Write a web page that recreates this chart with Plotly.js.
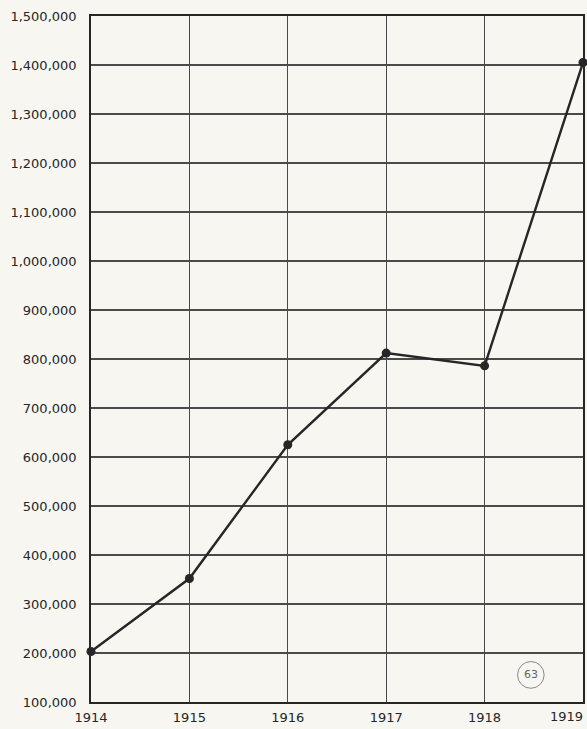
<!DOCTYPE html>
<html>
<head>
<meta charset="utf-8">
<script src="https://cdn.plot.ly/plotly-3.0.1.min.js"></script>
<style>
html,body{margin:0;padding:0;background:#f7f6f1;}
#chart{width:587px;height:729px;}
</style>
</head>
<body>
<div id="chart"></div>
<script>
const years = [1914, 1915, 1916, 1917, 1918, 1919];
const values = [203000, 352000, 625000, 812000, 786000, 1405000];
const yTickVals = [100000, 200000, 300000, 400000, 500000, 600000, 700000, 800000, 900000, 1000000, 1100000, 1200000, 1300000, 1400000, 1500000];
const yTickText = ['100,000', '200,000', '300,000', '400,000', '500,000', '600,000', '700,000', '800,000', '900,000', '1,000,000', '1,100,000', '1,200,000', '1,300,000', '1,400,000', '1,500,000'];
const xTickVals = [1914, 1915, 1916, 1917, 1918];
const xTickText = ['1914', '1915', '1916', '1917', '1918'];
const lastYearLabel = '1919';
const pageMark = '63';

const ink = '#262626';
const gridInk = '#4a4a4a';
const labelFont = {family: 'DejaVu Sans, sans-serif', size: 13, color: '#262626'};

const trace = {
  x: years,
  y: values,
  type: 'scatter',
  mode: 'lines+markers',
  line: {color: ink, width: 2.4},
  marker: {color: ink, size: 9},
  cliponaxis: false,
  hoverinfo: 'skip'
};

const layout = {
  width: 587,
  height: 729,
  margin: {l: 91, r: 4, t: 16, b: 27},
  paper_bgcolor: '#f7f6f1',
  plot_bgcolor: '#f7f6f1',
  showlegend: false,
  xaxis: {
    range: [1914, 1919],
    tickvals: xTickVals,
    ticktext: xTickText,
    showgrid: true,
    gridcolor: gridInk,
    gridwidth: 1.3,
    zeroline: false,
    showline: true,
    linecolor: ink,
    linewidth: 1.8,
    mirror: true,
    ticks: '',
    ticklabelstandoff: 3,
    tickfont: labelFont
  },
  yaxis: {
    range: [100000, 1500000],
    tickvals: yTickVals,
    ticktext: yTickText,
    showgrid: true,
    gridcolor: gridInk,
    gridwidth: 1.3,
    zeroline: false,
    showline: true,
    linecolor: ink,
    linewidth: 1.8,
    mirror: true,
    ticks: '',
    ticklabelstandoff: 10,
    tickfont: labelFont
  },
  shapes: [
    {type: 'circle', xref: 'paper', yref: 'paper', x0: 0.867, x1: 0.921, y0: 0.02, y1: 0.059,
     line: {color: '#8a8a8a', width: 1}}
  ],
  annotations: [
    {text: pageMark, xref: 'paper', yref: 'paper', x: 0.894, y: 0.0395, xanchor: 'center', yanchor: 'middle',
     showarrow: false, font: {family: 'DejaVu Sans, sans-serif', size: 11, color: '#666'}},
    {text: lastYearLabel, xref: 'paper', yref: 'paper', x: 1, y: 0, xanchor: 'right', yanchor: 'top',
     xshift: 2, yshift: -5, showarrow: false, font: labelFont}
  ]
};

Plotly.newPlot('chart', [trace], layout, {displayModeBar: false, staticPlot: true});
</script>
</body>
</html>
